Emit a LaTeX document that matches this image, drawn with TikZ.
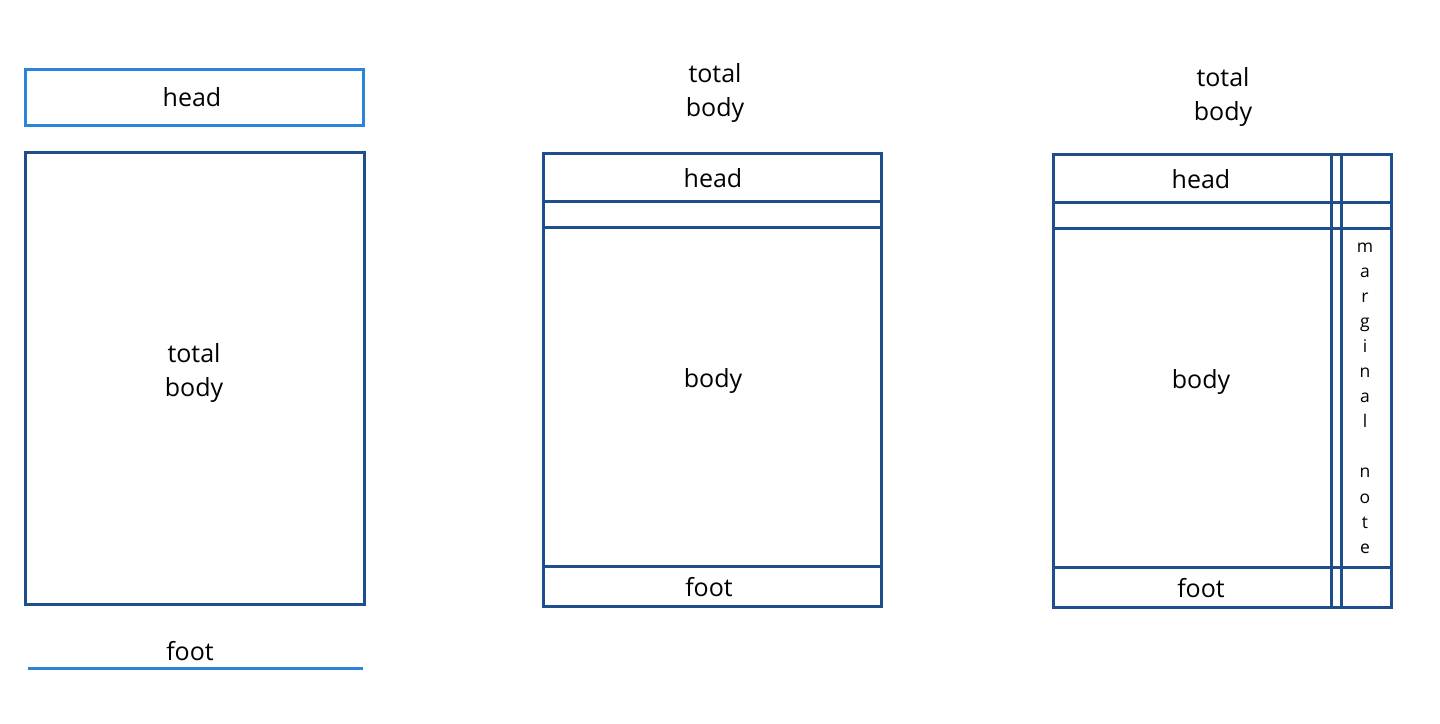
\documentclass[tikz,border=0pt]{standalone}
\usepackage{fontspec}
\setmainfont{Open Sans}
\definecolor{darkb}{HTML}{1F4E8E}
\definecolor{lightb}{HTML}{2A84DC}
\begin{document}
\begin{tikzpicture}[x=1pt,y=-1pt,
  lbl/.style={font=\fontsize{25}{34}\selectfont, align=center, inner sep=0pt},
  mlbl/.style={font=\fontsize{17.5}{25.1}\selectfont, align=center, inner sep=0pt},
  dk/.style={draw=darkb, line width=3pt},
  lt/.style={draw=lightb, line width=3pt}]
\useasboundingbox (0,0) rectangle (1440,723);
% left panel
\draw[lt] (25,69) rectangle (363,125);
\node[lbl] (lhead) at (192,97) {head};
\draw[dk] (25,152) rectangle (364,604);
\node[lbl] (ltotal) at (194,373) {total\\body};
\node[lbl] (lfoot) at (190,651) {foot};
\coordinate (fa) at (28,668);
\coordinate (fb) at (363,668);
\draw[lt] (fa) -- (fb);
% middle panel
\node[lbl] (mtotal) at (715,93) {total\\body};
\draw[dk] (543,153) rectangle (881,606);
\draw[dk] (543,201) -- (881,201);
\draw[dk] (543,227) -- (881,227);
\draw[dk] (543,566) -- (881,566);
\node[lbl] (mhead) at (713,178) {head};
\node[lbl] (mbody) at (713,381) {body};
\node[lbl] (mfoot) at (709,587) {foot};
% right panel
\node[lbl] (rtotal) at (1223,97) {total\\body};
\draw[dk] (1053,154) rectangle (1391,607);
\draw[dk] (1053,202) -- (1391,202);
\draw[dk] (1053,228) -- (1391,228);
\draw[dk] (1053,567) -- (1391,567);
\draw[dk] (1331,154) -- (1331,607);
\draw[dk] (1341,154) -- (1341,607);
\node[lbl] (rhead) at (1201,179) {head};
\node[lbl] (rbody) at (1201,382) {body};
\node[lbl] (rfoot) at (1201,588) {foot};
\node[mlbl] (rnote) at (1365,398) {m\\a\\r\\g\\i\\n\\a\\l\\[25.1pt]n\\o\\t\\e};
\end{tikzpicture}
\end{document}
